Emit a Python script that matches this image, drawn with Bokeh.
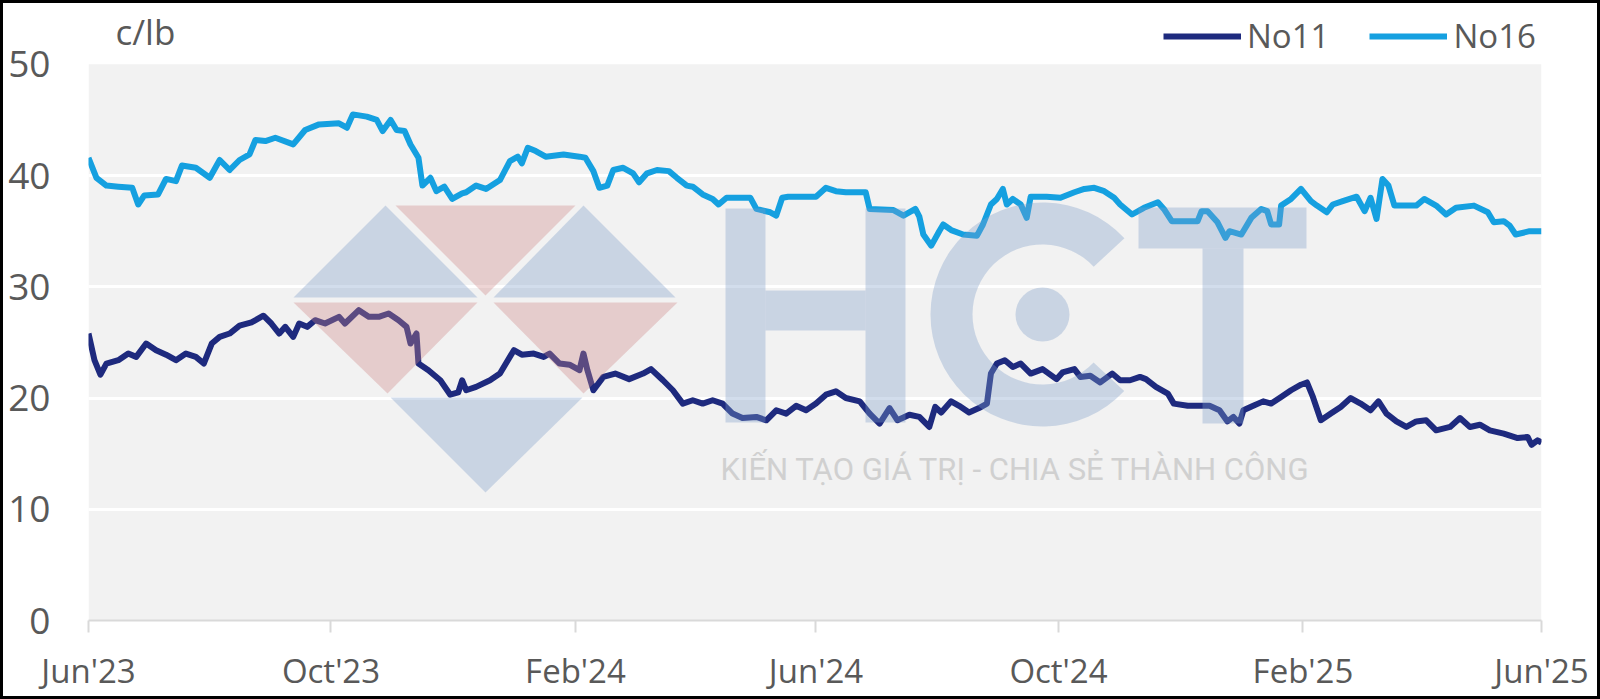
import pandas as pd
from bokeh.plotting import figure
from bokeh.models import (Range1d, FixedTicker, DatetimeTickFormatter, Legend,
                          LegendItem, Label, ColumnDataSource, BoxAnnotation)
from bokeh.embed import file_html
from bokeh.resources import INLINE

# ---------------- data ----------------
series_names = ["No11", "No16"]
unit_label = "c/lb"

no11_dates = [
    "2023-06-01", "2023-06-04", "2023-06-07", "2023-06-10", "2023-06-16", "2023-06-21", "2023-06-25",
    "2023-06-30", "2023-07-05", "2023-07-10", "2023-07-15", "2023-07-20", "2023-07-25", "2023-07-29",
    "2023-08-02", "2023-08-06", "2023-08-11", "2023-08-16", "2023-08-22", "2023-08-28", "2023-09-01",
    "2023-09-05", "2023-09-08", "2023-09-12", "2023-09-15", "2023-09-19", "2023-09-23", "2023-09-28",
    "2023-10-05", "2023-10-08", "2023-10-15", "2023-10-20", "2023-10-25", "2023-10-30", "2023-11-04",
    "2023-11-08", "2023-11-10", "2023-11-13", "2023-11-14", "2023-11-19", "2023-11-25", "2023-11-30",
    "2023-12-04", "2023-12-06", "2023-12-08", "2023-12-13", "2023-12-20", "2023-12-25", "2023-12-28",
    "2024-01-01", "2024-01-05", "2024-01-11", "2024-01-16", "2024-01-19", "2024-01-24", "2024-01-29",
    "2024-02-03", "2024-02-05", "2024-02-07", "2024-02-10", "2024-02-15", "2024-02-21", "2024-02-28",
    "2024-03-06", "2024-03-10", "2024-03-16", "2024-03-21", "2024-03-26", "2024-03-31", "2024-04-05",
    "2024-04-10", "2024-04-15", "2024-04-20", "2024-04-25", "2024-05-02", "2024-05-07", "2024-05-12",
    "2024-05-17", "2024-05-22", "2024-05-27", "2024-06-01", "2024-06-06", "2024-06-11", "2024-06-16",
    "2024-06-23", "2024-06-28", "2024-07-03", "2024-07-08", "2024-07-12", "2024-07-18", "2024-07-23",
    "2024-07-28", "2024-07-31", "2024-08-03", "2024-08-08", "2024-08-12", "2024-08-17", "2024-08-22",
    "2024-08-26", "2024-08-28", "2024-08-31", "2024-09-04", "2024-09-08", "2024-09-12", "2024-09-17",
    "2024-09-23", "2024-09-30", "2024-10-03", "2024-10-09", "2024-10-12", "2024-10-17", "2024-10-22",
    "2024-10-28", "2024-11-01", "2024-11-06", "2024-11-11", "2024-11-14", "2024-11-19", "2024-11-25",
    "2024-11-28", "2024-12-05", "2024-12-10", "2024-12-16", "2024-12-21", "2024-12-25", "2024-12-28",
    "2024-12-31", "2025-01-02", "2025-01-07", "2025-01-12", "2025-01-16", "2025-01-21", "2025-01-26",
    "2025-01-31", "2025-02-03", "2025-02-06", "2025-02-10", "2025-02-15", "2025-02-20", "2025-02-25",
    "2025-03-02", "2025-03-07", "2025-03-11", "2025-03-15", "2025-03-20", "2025-03-25", "2025-03-30",
    "2025-04-04", "2025-04-09", "2025-04-16", "2025-04-21", "2025-04-26", "2025-05-01", "2025-05-06",
    "2025-05-13", "2025-05-20", "2025-05-25", "2025-05-27", "2025-05-30", "2025-06-01",
]
no11_values = [
    25.8, 23.4, 22.1, 23.1, 23.4, 24.0, 23.7,
    24.9, 24.3, 23.9, 23.4, 24.0, 23.7, 23.1,
    24.9, 25.5, 25.8, 26.5, 26.8, 27.4, 26.7,
    25.8, 26.4, 25.5, 26.7, 26.4, 27.0, 26.7,
    27.3, 26.7, 27.9, 27.3, 27.3, 27.6, 27.0,
    26.4, 24.9, 25.8, 23.1, 22.5, 21.6, 20.3,
    20.5, 21.6, 20.7, 21.0, 21.6, 22.2, 23.1,
    24.3, 23.9, 24.0, 23.7, 24.0, 23.1, 23.0,
    22.5, 24.0, 22.5, 20.7, 21.9, 22.2, 21.7,
    22.2, 22.6, 21.6, 20.7, 19.5, 19.8, 19.5,
    19.8, 19.5, 18.6, 18.2, 18.3, 18.0, 18.9,
    18.6, 19.3, 18.9, 19.5, 20.3, 20.6, 20.0,
    19.7, 18.6, 17.7, 19.1, 18.0, 18.5, 18.3,
    17.4, 19.2, 18.7, 19.7, 19.3, 18.7, 19.1,
    19.5, 22.2, 23.1, 23.4, 22.8, 23.1, 22.2,
    22.6, 21.7, 22.3, 22.6, 21.9, 22.0, 21.4,
    22.2, 21.6, 21.6, 21.9, 21.7, 21.0, 20.4,
    19.5, 19.3, 19.3, 19.3, 18.9, 17.9, 18.3,
    17.7, 18.9, 19.3, 19.7, 19.5, 20.1, 20.7,
    21.2, 21.4, 20.1, 18.0, 18.6, 19.2, 20.0,
    19.5, 18.9, 19.7, 18.6, 17.9, 17.4, 17.9,
    18.0, 17.1, 17.4, 18.2, 17.4, 17.6, 17.1,
    16.8, 16.4, 16.5, 15.8, 16.2, 16.0,
]

no16_dates = [
    "2023-06-01", "2023-06-05", "2023-06-10", "2023-06-16", "2023-06-23", "2023-06-26", "2023-06-29",
    "2023-07-06", "2023-07-10", "2023-07-15", "2023-07-18", "2023-07-25", "2023-08-01", "2023-08-06",
    "2023-08-11", "2023-08-16", "2023-08-21", "2023-08-24", "2023-08-29", "2023-09-03", "2023-09-12",
    "2023-09-18", "2023-09-25", "2023-10-05", "2023-10-09", "2023-10-12", "2023-10-19", "2023-10-24",
    "2023-10-27", "2023-10-31", "2023-11-03", "2023-11-07", "2023-11-10", "2023-11-14", "2023-11-16",
    "2023-11-20", "2023-11-23", "2023-11-27", "2023-12-01", "2023-12-06", "2023-12-08", "2023-12-13",
    "2023-12-18", "2023-12-25", "2023-12-30", "2024-01-03", "2024-01-05", "2024-01-08", "2024-01-12",
    "2024-01-17", "2024-01-26", "2024-02-03", "2024-02-06", "2024-02-10", "2024-02-13", "2024-02-17",
    "2024-02-20", "2024-02-25", "2024-03-01", "2024-03-04", "2024-03-08", "2024-03-13", "2024-03-19",
    "2024-03-23", "2024-03-28", "2024-03-31", "2024-04-05", "2024-04-10", "2024-04-13", "2024-04-17",
    "2024-04-29", "2024-05-02", "2024-05-09", "2024-05-12", "2024-05-15", "2024-05-18", "2024-06-01",
    "2024-06-06", "2024-06-11", "2024-06-16", "2024-06-26", "2024-06-28", "2024-07-10", "2024-07-15",
    "2024-07-21", "2024-07-23", "2024-07-25", "2024-07-29", "2024-08-02", "2024-08-04", "2024-08-08",
    "2024-08-14", "2024-08-21", "2024-08-24", "2024-08-28", "2024-08-31", "2024-09-03", "2024-09-05",
    "2024-09-08", "2024-09-12", "2024-09-15", "2024-09-17", "2024-09-25", "2024-10-02", "2024-10-09",
    "2024-10-14", "2024-10-19", "2024-10-24", "2024-10-29", "2024-11-01", "2024-11-07", "2024-11-13",
    "2024-11-20", "2024-11-23", "2024-11-27", "2024-12-05", "2024-12-10", "2024-12-12", "2024-12-15",
    "2024-12-20", "2024-12-24", "2024-12-26", "2025-01-01", "2025-01-06", "2025-01-11", "2025-01-14",
    "2025-01-16", "2025-01-20", "2025-01-21", "2025-01-26", "2025-01-31", "2025-02-05", "2025-02-08",
    "2025-02-13", "2025-02-16", "2025-02-21", "2025-02-28", "2025-03-04", "2025-03-07", "2025-03-10",
    "2025-03-13", "2025-03-16", "2025-03-19", "2025-03-30", "2025-04-03", "2025-04-09", "2025-04-14",
    "2025-04-19", "2025-04-28", "2025-05-05", "2025-05-08", "2025-05-13", "2025-05-16", "2025-05-19",
    "2025-05-26", "2025-06-01",
]
no16_values = [
    41.6, 39.8, 39.1, 39.0, 38.9, 37.4, 38.2,
    38.3, 39.7, 39.5, 40.9, 40.7, 39.8, 41.4,
    40.5, 41.4, 41.9, 43.2, 43.1, 43.4, 42.8,
    44.1, 44.6, 44.7, 44.3, 45.5, 45.3, 45.0,
    44.0, 45.0, 44.1, 44.0, 42.8, 41.6, 39.1,
    39.8, 38.6, 39.0, 37.9, 38.4, 38.5, 39.1,
    38.8, 39.6, 41.3, 41.7, 41.1, 42.5, 42.2,
    41.7, 41.9, 41.7, 41.6, 40.4, 38.9, 39.1,
    40.5, 40.7, 40.2, 39.4, 40.2, 40.5, 40.4,
    39.8, 39.1, 39.0, 38.3, 37.9, 37.4, 38.0,
    38.0, 37.0, 36.7, 36.4, 38.0, 38.1, 38.1,
    38.9, 38.6, 38.5, 38.5, 37.0, 36.9, 36.4,
    37.0, 36.3, 34.7, 33.7, 35.0, 35.6, 35.1,
    34.7, 34.6, 35.6, 37.4, 37.9, 38.8, 37.4,
    37.9, 37.4, 36.2, 38.1, 38.1, 38.0, 38.5,
    38.8, 38.9, 38.6, 38.0, 37.4, 36.5, 37.1,
    37.6, 37.0, 35.9, 35.9, 35.9, 36.8, 36.8,
    35.8, 34.4, 35.0, 34.7, 36.2, 37.0, 36.8,
    35.6, 35.6, 37.3, 37.9, 38.8, 37.7, 37.3,
    36.7, 37.4, 37.7, 38.1, 36.8, 38.0, 36.1,
    39.7, 39.1, 37.3, 37.3, 37.9, 37.3, 36.5,
    37.1, 37.3, 36.7, 35.8, 35.9, 35.5, 34.7,
    35.0, 35.0,
]

x_tick_dates = ["2023-06-01", "2023-10-01", "2024-02-01", "2024-06-01",
                "2024-10-01", "2025-02-01", "2025-06-01"]
x_tick_labels = ["Jun'23", "Oct'23", "Feb'24", "Jun'24", "Oct'24", "Feb'25", "Jun'25"]
y_ticks = [0, 10, 20, 30, 40, 50]

watermark_text = "KIẾN TẠO GIÁ TRỊ - CHIA SẺ THÀNH CÔNG"

# ---------------- style ----------------
FONT = "Open Sans"
TEXT_COLOR = "#595959"
NO11_COLOR = "#1e2a7e"
NO16_COLOR = "#15a0e0"
BG = "#f2f2f2"
FS = "33px"

W, H = 1600, 699
ML, MR, MT, MB = 85, 62, 3, 82
FW, FH = W - ML - MR, H - MT - MB
Y_TOP = 55.2   # headroom above the 50 line for unit label and legend

def ms(d):
    return pd.Timestamp(d).value // 10**6

src11 = ColumnDataSource(dict(x=pd.to_datetime(no11_dates), y=no11_values))
src16 = ColumnDataSource(dict(x=pd.to_datetime(no16_dates), y=no16_values))

p = figure(width=W, height=H, x_axis_type="datetime",
           x_range=Range1d(pd.Timestamp(x_tick_dates[0]).to_pydatetime(),
                           pd.Timestamp(x_tick_dates[-1]).to_pydatetime()),
           y_range=Range1d(y_ticks[0], Y_TOP),
           output_backend="svg", toolbar_location=None,
           min_border_left=ML, min_border_right=MR,
           min_border_top=MT, min_border_bottom=MB)
p.styles = {"border": "3px solid black", "overflow": "hidden"}
p.background_fill_color = "white"
p.border_fill_color = "white"
p.outline_line_color = None

# grey plotting band 0..50
p.add_layout(BoxAnnotation(bottom=y_ticks[0], top=y_ticks[-1], fill_color=BG, fill_alpha=1,
                           line_color=None, level="image"))

# x axis
p.xaxis.ticker = FixedTicker(ticks=[ms(d) for d in x_tick_dates])
p.xaxis.formatter = DatetimeTickFormatter(days="%b'%y", months="%b'%y", years="%b'%y")
p.xaxis.major_label_overrides = {ms(d): lab for d, lab in zip(x_tick_dates, x_tick_labels)}
p.xaxis.axis_line_color = "#d9d9d9"
p.xaxis.axis_line_width = 2
p.xaxis.major_tick_line_color = "#d9d9d9"
p.xaxis.major_tick_line_width = 2
p.xaxis.major_tick_in = 0
p.xaxis.major_tick_out = 12
p.xaxis.minor_tick_line_color = None
p.xaxis.minor_tick_out = 0
p.xaxis.major_label_standoff = 15
p.xaxis.major_label_text_font = FONT
p.xaxis.major_label_text_font_size = FS
p.xaxis.major_label_text_color = TEXT_COLOR

# y axis
p.yaxis.ticker = FixedTicker(ticks=y_ticks)
p.yaxis.axis_line_color = None
p.yaxis.major_tick_line_color = None
p.yaxis.minor_tick_line_color = None
p.yaxis.major_tick_in = 0
p.yaxis.major_tick_out = 0
p.yaxis.minor_tick_out = 0
p.yaxis.major_label_standoff = 38
p.yaxis.major_label_text_font = FONT
p.yaxis.major_label_text_font_size = "37px"
p.yaxis.major_label_text_color = TEXT_COLOR

p.xgrid.visible = False
p.ygrid.ticker = FixedTicker(ticks=y_ticks[:-1])
p.ygrid.grid_line_color = "white"
p.ygrid.grid_line_width = 3

r11 = p.line("x", "y", source=src11, line_color=NO11_COLOR, line_width=6, line_join="round")
r16 = p.line("x", "y", source=src16, line_color=NO16_COLOR, line_width=6, line_join="round")

# ---------------- watermark overlay (frame-pixel coordinate system) ----------------
p.extra_x_ranges = {"px": Range1d(0, FW)}
p.extra_y_ranges = {"py": Range1d(0, FH)}
WM_BLUE = "#7f9fc8"
WM_PINK = "#cd8686"
WM_A = 0.35
tri_xs = [[205, 297, 389], [307, 487, 397], [405, 495, 587],
          [205, 389, 299], [405, 589, 495], [302, 494, 397]]
tri_ys = [[323, 415, 323], [415, 415, 325], [323, 415, 323],
          [318, 318, 227], [318, 318, 227], [223, 223, 128]]
tri_c = [WM_BLUE, WM_PINK, WM_BLUE, WM_PINK, WM_PINK, WM_BLUE]
p.patches(tri_xs, tri_ys, fill_color=tri_c, fill_alpha=WM_A, line_color=None,
          x_range_name="px", y_range_name="py")
p.quad(left=[637, 777, 677, 1050, 1114], right=[677, 817, 777, 1218, 1155],
       bottom=[198, 198, 290, 372, 197], top=[412, 412, 330, 413, 372],
       fill_color=WM_BLUE, fill_alpha=WM_A, line_color=None,
       x_range_name="px", y_range_name="py")
p.annular_wedge(x=954, y=306, inner_radius=70, outer_radius=112,
                start_angle=0.75, end_angle=5.53, fill_color=WM_BLUE, fill_alpha=WM_A,
                line_color=None, x_range_name="px", y_range_name="py")
p.circle(x=[954], y=[306], radius=27, fill_color=WM_BLUE, fill_alpha=WM_A, line_color=None,
         x_range_name="px", y_range_name="py")
p.add_layout(Label(x=927, y=151, x_range_name="px", y_range_name="py", text=watermark_text,
                   text_align="center", text_baseline="middle", text_font="Roboto",
                   text_font_size="31px", text_color="#d0d0d0"))

# unit label
p.add_layout(Label(x=27, y=589, x_range_name="px", y_range_name="py", text=unit_label,
                   text_align="left", text_baseline="middle", text_font=FONT,
                   text_font_size="35px", text_color=TEXT_COLOR))

legend = Legend(items=[LegendItem(label=series_names[0], renderers=[r11]),
                       LegendItem(label=series_names[1], renderers=[r16])],
                location=(1075, 562), orientation="horizontal",
                glyph_width=78, glyph_height=30, label_standoff=6, spacing=40,
                padding=0, margin=0, border_line_color=None, background_fill_alpha=0,
                label_text_font=FONT, label_text_font_size=FS, label_text_color=TEXT_COLOR,
                label_text_baseline="middle")
p.add_layout(legend)

open("out.html", "w").write(file_html(p, INLINE))
